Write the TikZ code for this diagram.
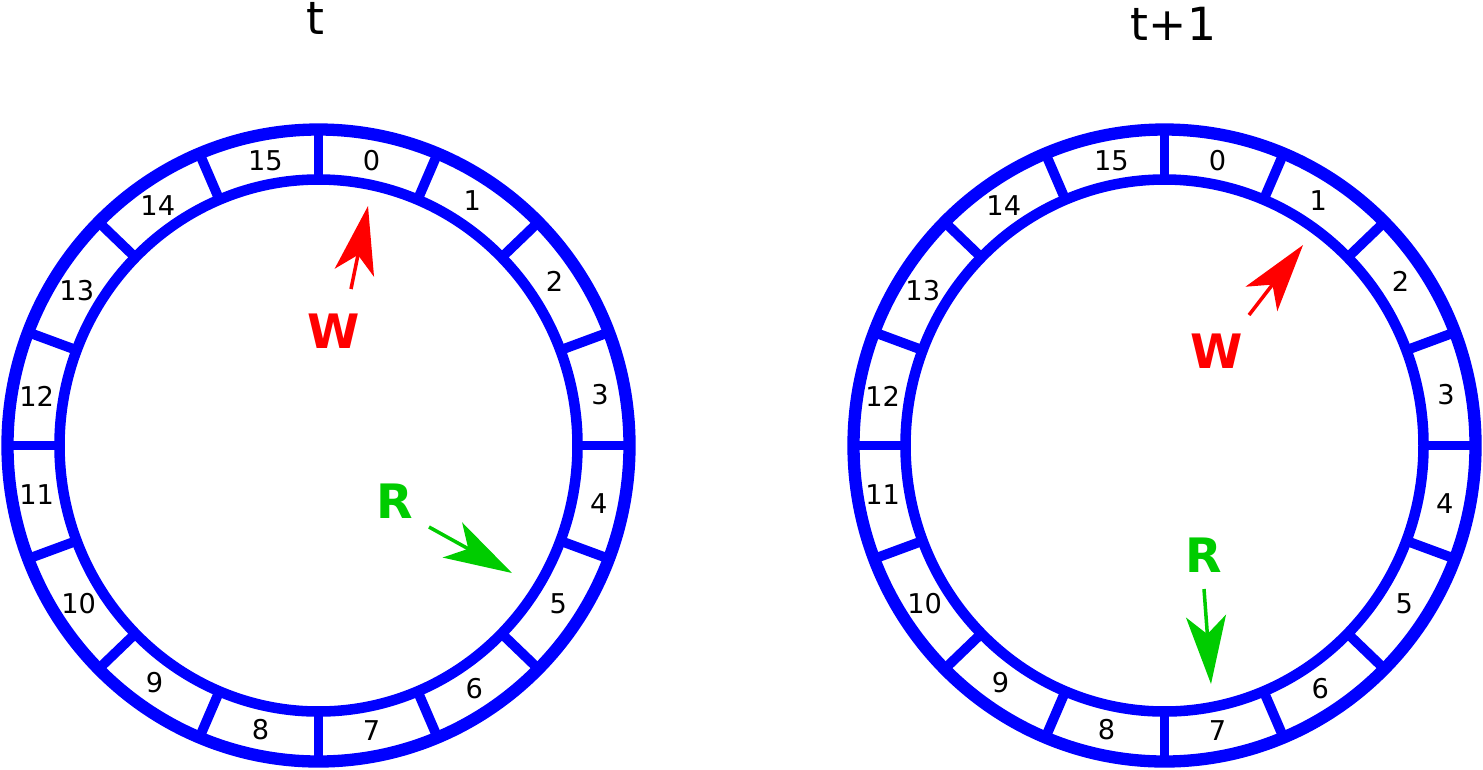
\documentclass[tikz,border=0pt]{standalone}
\usepackage{fontspec}
\setmainfont{DejaVu Sans}
\usetikzlibrary{arrows.meta}

\definecolor{ringblue}{RGB}{0,0,255}
\definecolor{wred}{RGB}{255,0,0}
\definecolor{rgreen}{RGB}{0,204,0}

\tikzset{
  outerring/.style={draw=ringblue, line width=7pt},
  innerring/.style={draw=ringblue, line width=6pt},
  divider/.style={draw=ringblue, line width=5.6pt},
  slot/.style={font=\fontsize{15.5}{18}\selectfont},
  timelabel/.style={font=\fontsize{26}{30}\selectfont},
  ptrlabel/.style={font=\fontsize{27}{32}\selectfont\bfseries},
  pointer/.style={line width=2pt, -{Stealth[length=1.36cm, width=0.8cm, inset=0.36cm]}}
}

\begin{document}
\begin{tikzpicture}[x=0.02cm, y=0.02cm]
  \useasboundingbox (0,0) rectangle (1483,-769);

  % the two ring buffers
  \foreach \rg/\cx in {a/318.5, b/1164.5}{
    \begin{scope}[shift={(\cx,-445.5)}]
      \draw[outerring] (0,0) ellipse [x radius=311, y radius=316];
      \draw[innerring] (0,0) ellipse [x radius=259, y radius=266];

      \foreach \theta in {0,21,45,67.5,90,112.5,135,159,180,201,225,247.5,270,292.5,315,339}{
        \draw[divider] (\theta:259 and 266) -- (\theta:311 and 316);
      }

      \foreach \i/\theta in {0/79.3, 1/57.5, 2/34.4, 3/10.2, 4/-11.5, 5/-33,
                             6/-57, 7/-79.3, 8/-101.7, 9/-125, 10/-147, 11/-170.2,
                             12/170.2, 13/147.7, 14/124.2, 15/100.7}{
        \node[slot] (\rg-s\i) at (\theta:286 and 290) {\i};
      }
    \end{scope}
  }

  \node[timelabel] (ta) at (315.5,-18) {t};
  \node[timelabel] (tb) at (1173.5,-23.5) {t+1};

  % pointers at time t
  \node[ptrlabel, text=wred] (wa) at (334,-331) {W};
  \node[ptrlabel, text=rgreen] (ra) at (395,-501) {R};
  \coordinate (wa-tail) at (351,-289);
  \coordinate (wa-tip) at (368,-206);
  \coordinate (ra-tail) at (429,-527);
  \coordinate (ra-tip) at (512,-573);
  \draw[pointer, wred] (wa-tail) -- (wa-tip);
  \draw[pointer, rgreen] (ra-tail) -- (ra-tip);

  % pointers at time t+1
  \node[ptrlabel, text=wred] (wb) at (1217,-351) {W};
  \node[ptrlabel, text=rgreen] (rb) at (1204,-555) {R};
  \coordinate (wb-tail) at (1249,-315);
  \coordinate (wb-tip) at (1303,-245);
  \coordinate (rb-tail) at (1204,-589);
  \coordinate (rb-tip) at (1211,-684);
  \draw[pointer, wred] (wb-tail) -- (wb-tip);
  \draw[pointer, rgreen] (rb-tail) -- (rb-tip);
\end{tikzpicture}
\end{document}
